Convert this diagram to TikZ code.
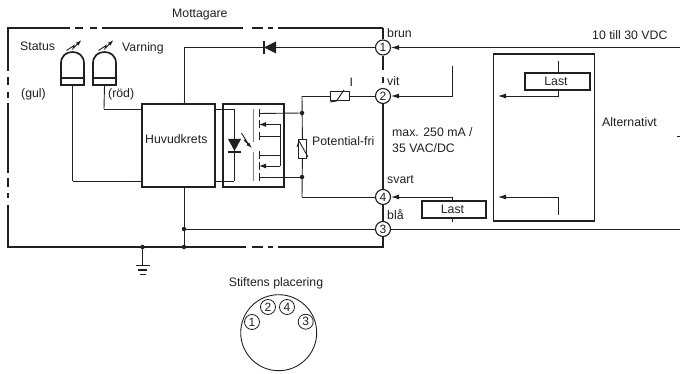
\documentclass[tikz,border=0pt]{standalone}
\usepackage{fontspec}
\setmainfont{Liberation Sans}
\usepackage{tikz}
\usetikzlibrary{arrows.meta}
\definecolor{ink}{HTML}{231F20}
\tikzset{
	wire/.style={draw=ink,line width=.9pt},
	feed/.style={wire,-{Latex[length=8pt,width=5pt]}},
	frame/.style={draw=ink,line width=2pt},
	pin/.style={shape=circle,draw=ink,fill=white,text=ink,inner sep=0pt,minimum size=15pt,line width=1.1pt,font=\fontsize{12}{12}\selectfont},
	dot/.style={shape=circle,fill=ink,inner sep=0pt,minimum size=4.5pt},
	box/.style={shape=rectangle,draw=ink,line width=2pt,inner sep=0pt},
	lbl/.style={anchor=base west,inner sep=0pt,text=ink,font=\fontsize{12.3}{12.3}\selectfont},
	gate/.style={draw=gray,line width=1.5pt}
}
\begin{document}
\begin{tikzpicture}[x=1pt,y=-1pt]
	\useasboundingbox (0,0) rectangle (680,374);

	% terminals
	\node[pin] (1) at (383,47.5) {1};
	\node[pin] (2) at (383,96) {2};
	\node[pin] (4) at (383,197) {4};
	\node[pin] (3) at (383,229) {3};

	% housing, with its breaks
	\path[frame,line cap=butt]
	(383,28) -- (278,28)
	(273,28) -- (268,28)
	(263,28) -- (252,28)
	(243,28) -- (102,28)
	(97,28) -- (90,28)
	(83,28) -- (75,28)
	(70,28) -- (7.5,28) -- (7.5,71.5)
	(7.5,77) -- (7.5,85)
	(7.5,92) -- (7.5,98)
	(7.5,103) -- (7.5,173)
	(7.5,178) -- (7.5,187)
	(7.5,193) -- (7.5,198)
	(7.5,205) -- (7.5,247) -- (246,247)
	(252,247) -- (263,247)
	(268,247) -- (273,247)
	(278,247) -- (383,247) -- (3)
	(3) -- (4)
	(4) -- (2)
	(1) -- (383,28)
	(1) -- (383,70)
	(383,77) -- (383,83);

	% blocks
	\node[box,minimum width=73pt,minimum height=83pt] (main) at (178.5,145.5) {};
	\node[box,minimum width=61pt,minimum height=83pt] (opto) at (253.5,145.5) {};
	\node[box,minimum width=64pt,minimum height=17pt] (load1) at (453.5,209.5) {};
	\node[box,minimum width=65pt,minimum height=17pt] (load2) at (557.5,82) {};
	\node[draw=ink,line width=1.1pt,inner sep=0pt,minimum width=101pt,minimum height=167pt] (alt) at (544,137.5) {};

	% lamps
	\foreach \x/\n in {61/lamp1,93/lamp2} {
		\draw[frame,line width=1.7pt] (\x,85) -- (\x,63.5) .. controls (\x,56) and (\x+5,52) .. (\x+11.5,52) .. controls (\x+18,52) and (\x+23,56) .. (\x+23,63.5) -- (\x+23,85) -- cycle;
		\draw[frame,line width=1.7pt] (\x,78) -- (\x+23,78);
		\coordinate (\n) at (\x+11.5,85);
		\draw[wire,line width=.9pt,-{Latex[length=6pt,width=4pt]}] (\x+5.5,50.5) -- (\x+13,45.5) -- (\x+12,48.5) -- (\x+20.5,40);
	}

	% junctions
	\node[dot] (j1) at (184,229) {};
	\node[dot] (j2) at (184,247) {};
	\node[dot] (j3) at (142.5,247) {};
	\node[dot] (j4) at (302,113) {};
	\node[dot] (j5) at (302,177) {};

	% diode
	\fill[ink] (264,47.5) -- (276,41.5) -- (276,53.5) -- cycle;
	\draw[frame,line width=1.5pt] (264,41) -- (264,54);

	% outside feeds
	\coordinate (e1) at (680,47.5);
	\coordinate (e3) at (680,229);
	\coordinate (s2) at (452.5,66);
	\coordinate (s4) at (452.5,222);
	\path[wire]
	(3) edge (e3)
	(3) edge (j1)
	(j1) edge (j2)
	(j3) edge (142.5,266)
	(1) edge (184,47.5)
	(184,47.5) edge (main.north -| 184,0)
	(main.south -| 184,0) edge (j1)
	(lamp1) edge (72.5,181)
	(72.5,181) edge (main.west |- 0,181)
	(lamp2) edge (104,109)
	(104,109) edge (main.west |- 0,109)
	(main.east |- 0,109) edge (234,109)
	(234,109) edge (234,181)
	(234,181) edge (main.east |- 0,181)
	(s2) edge (452.5,96)
	(load1.north -| s4) edge (452.5,197)
	(load1.south -| s4) edge (s4);
	\draw[feed] (e1) -- (1);
	\draw[feed] (452.5,96) -- (2);
	\draw[feed] (452.5,197) -- (4);

	% ground
	\path[wire,line width=1.3pt]
	(136,265.5) edge (150,265.5)
	(138,270) edge (147,270)
	(140,274.5) edge (146,274.5);

	% led
	\fill[ink] (228,139) -- (241,139) -- (234.5,151) -- cycle;
	\draw[frame,line width=1.5pt] (228,152) -- (241,152);
	\draw[wire,line width=.9pt,-{Latex[length=6pt,width=4pt]}] (241.5,133) -- (247,142) -- (244,140) -- (252,148);

	% transistors
	\path[gate] (253.5,109) edge (253.5,142) (253.5,152) edge (253.5,181);
	\foreach \y in {113.5,124.5,136,155,166,177} {
		\draw[wire] (259,\y-4) -- (259,\y+4);
	}
	\path[wire]
	(259,113.5) edge (j4)
	(259,177) edge (j5)
	(259,136) edge (280,136)
	(259,155) edge (280,155)
	(280,124.5) edge (280,166);
	\draw[wire,-{Latex[length=7pt,width=5pt]}] (280,124.5) -- (259,124.5);
	\draw[wire,-{Latex[length=7pt,width=5pt]}] (280,166) -- (259,166);

	% suppressors
	\node[draw=ink,fill=white,line width=.9pt,inner sep=0pt,minimum width=19pt,minimum height=8.5pt] (var1) at (339.5,96) {};
	\node[draw=ink,fill=white,line width=.9pt,inner sep=0pt,minimum width=8.5pt,minimum height=19pt] (var2) at (302.5,149) {};
	\path[wire]
	(2) edge (var1)
	(var1) edge (302,96)
	(302,96) edge (var2)
	(var2) edge (302,197)
	(302,197) edge (4);
	\draw[wire] (330,102) -- (336.5,101) -- (344,90);
	\draw[wire] (297,147) -- (299,141) -- (308,157);

	% second load, alternative wiring
	\coordinate (a1) at (558.5,61);
	\coordinate (a2) at (558.5,215);
	\path[wire] (a1) edge (load2.north -| a1);
	\draw[feed] (load2.south -| a1) -- (558.5,96) -- (498,96);
	\draw[feed] (a2) -- (558.5,197) -- (498,197);
	\coordinate (m) at (677,136);
	\path[wire] (m) edge (680,136);

	% connector view
	\node[draw=ink,shape=circle,line width=.9pt,inner sep=0pt,minimum size=76pt] (plug) at (278.7,332.7) {};
	\node[pin,line width=.8pt] (p1) at (252,322) {1};
	\node[pin,line width=.8pt] (p2) at (268,307) {2};
	\node[pin,line width=.8pt] (p4) at (287,307) {4};
	\node[pin,line width=.8pt] (p3) at (305.7,321.7) {3};

	% labels
	\node[lbl] (tm) at (172,17.3) {Mottagare};
	\node[lbl] (ts) at (20,50.6) {Status};
	\node[lbl] (tv) at (122,52) {Varning};
	\node[lbl] (tg) at (21,98) {(gul)};
	\node[lbl] (tr) at (108,98) {(röd)};
	\node[lbl] (th) at (145,143.3) {Huvudkrets};
	\node[lbl] (tb) at (387,38) {brun};
	\node[lbl] (tw) at (387,85.6) {vit};
	\node[lbl] (tk) at (387,184) {svart};
	\node[lbl] (ta) at (387,219) {blå};
	\node[lbl] (ti) at (349.5,87) {I};
	\node[lbl] (tp) at (312,145.6) {Potential-fri};
	\node[lbl] (tx) at (392,136.7) {max. 250 mA /};
	\node[lbl] (ty) at (392,152.4) {35 VAC/DC};
	\node[lbl] (tu) at (592,39.3) {10 till 30 VDC};
	\node[lbl] (tn) at (602,126.7) {Alternativt};
	\node[lbl,anchor=base] (tl2) at (556,85.7) {Last};
	\node[lbl,anchor=base] (tl1) at (452.5,214) {Last};
	\node[lbl,anchor=base] (tq) at (276,286) {Stiftens placering};
\end{tikzpicture}
\end{document}
